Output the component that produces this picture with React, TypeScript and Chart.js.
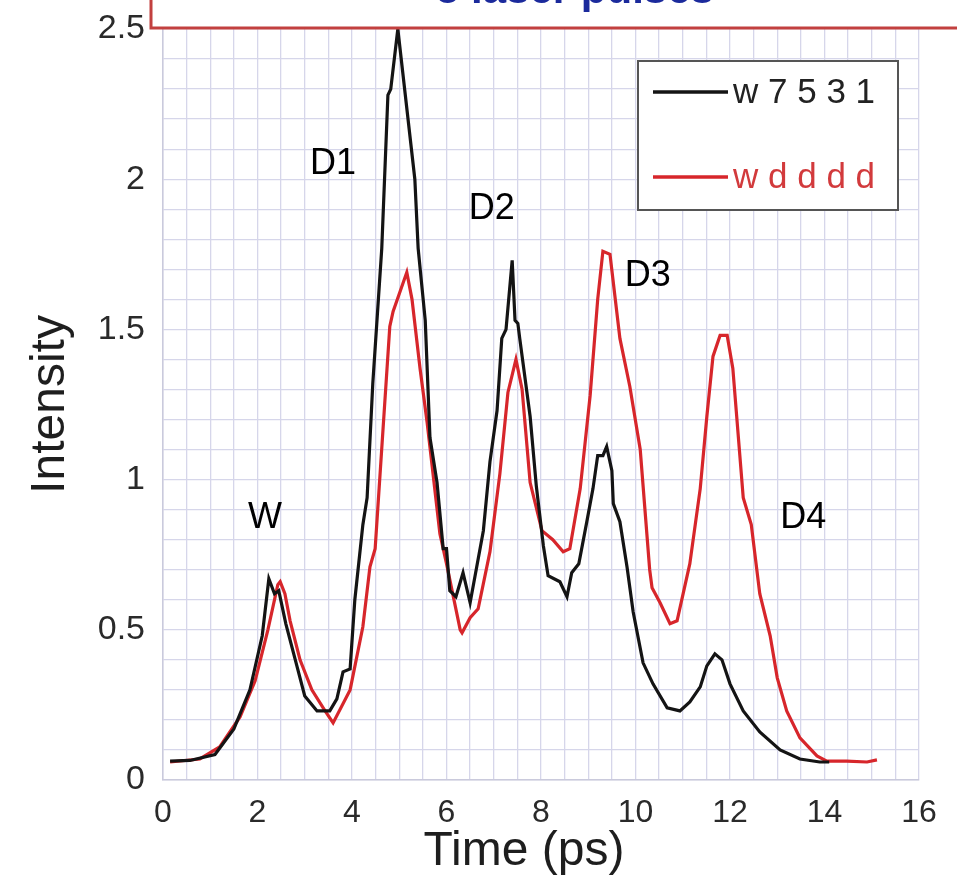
import React, { useEffect, useRef } from "react";
import { Chart, registerables } from "chart.js";

Chart.register(...registerables);

// ---- Data ----
const seriesNames = ["w 7 5 3 1", "w d d d d"];
const seriesColors = ["#141414", "#d7262b"];

const blackTimes = [
  0.15, 0.57, 1.1, 1.5, 1.84, 2.1, 2.24, 2.36, 2.45, 2.6, 2.8, 3.0, 3.26, 3.53, 3.68, 3.81, 3.96,
  4.06, 4.23, 4.32, 4.44, 4.63, 4.76, 4.82, 4.97, 5.33, 5.4, 5.55, 5.65, 5.8, 5.93, 6.0, 6.07,
  6.2, 6.35, 6.5, 6.64, 6.78, 6.92, 7.07, 7.17, 7.26, 7.39, 7.45, 7.51, 7.55, 7.77, 7.9, 8.05,
  8.15, 8.4, 8.55, 8.65, 8.8, 8.97, 9.1, 9.2, 9.31, 9.39, 9.5, 9.53, 9.67, 9.82, 9.95, 10.16,
  10.37, 10.67, 10.94, 11.15, 11.37, 11.51, 11.68, 11.83, 12.0, 12.28, 12.63, 13.06, 13.48,
  13.9, 14.1,
];
const blackIntensity = [
  0.063, 0.065, 0.085, 0.17, 0.3, 0.48, 0.67, 0.62, 0.63, 0.52, 0.4, 0.28, 0.23, 0.23, 0.27, 0.36,
  0.37, 0.6, 0.85, 0.94, 1.32, 1.77, 2.28, 2.3, 2.5, 2.0, 1.77, 1.53, 1.14, 0.99, 0.77, 0.77,
  0.63, 0.61, 0.69, 0.59, 0.71, 0.83, 1.06, 1.23, 1.47, 1.5, 1.73, 1.53, 1.52, 1.47, 1.21, 0.98,
  0.78, 0.68, 0.66, 0.61, 0.69, 0.72, 0.86, 0.97, 1.08, 1.08, 1.11, 1.03, 0.92, 0.86, 0.71,
  0.56, 0.39, 0.32, 0.24, 0.23, 0.26, 0.31, 0.38, 0.42, 0.4, 0.32, 0.23, 0.16, 0.1, 0.07, 0.06,
  0.06,
];

const redTimes = [
  0.15, 0.78, 1.2, 1.63, 1.95, 2.22, 2.43, 2.48, 2.58, 2.69, 2.9, 3.15, 3.43, 3.6, 3.96, 4.23,
  4.38, 4.49, 4.8, 4.87, 5.16, 5.27, 5.44, 5.59, 5.86, 6.0, 6.29, 6.33, 6.5, 6.67, 6.92, 7.13,
  7.3, 7.47, 7.6, 7.77, 8.02, 8.25, 8.47, 8.61, 8.83, 9.04, 9.2, 9.31, 9.46, 9.67, 9.88, 10.1,
  10.3, 10.35, 10.52, 10.73, 10.88, 11.15, 11.37, 11.51, 11.64, 11.79, 11.94, 12.06, 12.28,
  12.45, 12.63, 12.85, 13.0, 13.2, 13.48, 13.84, 14.05, 14.47, 14.9, 15.11,
];
const redIntensity = [
  0.06, 0.07, 0.11, 0.21, 0.33, 0.5, 0.65, 0.66, 0.62, 0.53, 0.4, 0.3, 0.23, 0.19, 0.3, 0.51,
  0.71, 0.77, 1.51, 1.56, 1.69, 1.6, 1.37, 1.19, 0.82, 0.72, 0.5, 0.49, 0.54, 0.57, 0.76, 1.02,
  1.29, 1.4, 1.3, 0.99, 0.83, 0.8, 0.76, 0.77, 0.97, 1.28, 1.6, 1.76, 1.75, 1.47, 1.31, 1.1,
  0.7, 0.64, 0.59, 0.52, 0.53, 0.72, 0.97, 1.21, 1.41, 1.48, 1.48, 1.37, 0.94, 0.85, 0.62,
  0.48, 0.34, 0.23, 0.14, 0.08, 0.063, 0.063, 0.06, 0.067,
];

const annotationLabels = ["W", "D1", "D2", "D3", "D4"];
const annotationX = [2.16, 3.6, 6.96, 10.26, 13.55];
const annotationY = [0.873, 2.05, 1.9, 1.677, 0.873];

const bannerText = "5 laser pulses";
const xTitle = "Time (ps)";
const yTitle = "Intensity";

const FONT = "'Liberation Sans', Arial, Helvetica, sans-serif";

function fmtTick(v: number): string {
  const r = Math.round(v * 10) / 10;
  return String(r);
}

const overlayPlugin = {
  id: "overlay",
  afterDraw(chart: any) {
    const ctx = chart.ctx as CanvasRenderingContext2D;
    const xs = chart.scales.x;
    const ys = chart.scales.y;
    ctx.save();
    // annotations
    ctx.fillStyle = "#000";
    ctx.font = `36px ${FONT}`;
    ctx.textAlign = "center";
    ctx.textBaseline = "middle";
    annotationLabels.forEach((t, i) => {
      ctx.fillText(t, xs.getPixelForValue(annotationX[i]), ys.getPixelForValue(annotationY[i]));
    });

    // x axis title
    ctx.fillStyle = "#1e1e1e";
    ctx.font = `48px ${FONT}`;
    ctx.textAlign = "center";
    ctx.textBaseline = "middle";
    ctx.fillText(xTitle, 524, 852);

    // legend box
    const lx = 638, ly = 61, lw = 260, lh = 149;
    ctx.fillStyle = "#fff";
    ctx.fillRect(lx, ly, lw, lh);
    ctx.strokeStyle = "#555";
    ctx.lineWidth = 2;
    ctx.strokeRect(lx, ly, lw, lh);
    const rows = [92, 177];
    seriesNames.forEach((name, i) => {
      ctx.strokeStyle = seriesColors[i];
      ctx.lineWidth = 3.5;
      ctx.beginPath();
      ctx.moveTo(653, rows[i]);
      ctx.lineTo(728, rows[i]);
      ctx.stroke();
      ctx.fillStyle = i === 0 ? "#222" : "#d23a3c";
      ctx.font = `35px ${FONT}`;
      ctx.textAlign = "left";
      ctx.textBaseline = "middle";
      ctx.fillText(name, 733, rows[i] + 1);
    });

    // top banner (cut off)
    ctx.fillStyle = "#fff";
    ctx.fillRect(151, -10, 820, 38);
    ctx.strokeStyle = "#c2403f";
    ctx.lineWidth = 3;
    ctx.beginPath();
    ctx.moveTo(151, -5);
    ctx.lineTo(151, 28);
    ctx.lineTo(965, 28);
    ctx.stroke();
    ctx.fillStyle = "#1b2a9c";
    ctx.font = `bold 42px ${FONT}`;
    ctx.textAlign = "center";
    ctx.textBaseline = "alphabetic";
    ctx.fillText(bannerText, 575, 3);
    ctx.restore();
  },
};

export default function App() {
  const ref = useRef<HTMLCanvasElement | null>(null);
  useEffect(() => {
    if (!ref.current) return;
    const chart = new Chart(ref.current, {
      type: "line",
      data: {
        datasets: [
          {
            label: seriesNames[0],
            data: blackTimes.map((t, i) => ({ x: t, y: blackIntensity[i] })),
            borderColor: seriesColors[0],
            borderWidth: 3.2,
            pointRadius: 0,
            tension: 0,
          },
          {
            label: seriesNames[1],
            data: redTimes.map((t, i) => ({ x: t, y: redIntensity[i] })),
            borderColor: seriesColors[1],
            borderWidth: 3.2,
            pointRadius: 0,
            tension: 0,
          },
        ],
      },
      options: {
        animation: false,
        responsive: false,
        devicePixelRatio: 1,
        layout: { padding: { left: 0, top: 29, right: 38, bottom: 0 } },
        plugins: { legend: { display: false }, tooltip: { enabled: false } },
        scales: {
          x: {
            type: "linear",
            min: 0,
            max: 16,
            afterFit: (s: any) => {
              s.height = 101;
              s.paddingLeft = 0;
              s.paddingRight = 0;
            },
            ticks: {
              stepSize: 0.5,
              autoSkip: false,
              maxRotation: 0,
              padding: 14,
              color: "#2a2a2a",
              font: { family: FONT, size: 32 },
              callback: (v: any) => {
                const n = Number(v);
                return Math.abs(n / 2 - Math.round(n / 2)) < 1e-6 ? fmtTick(n) : "";
              },
            },
            grid: { color: "#d6d6ea", lineWidth: 1.3, drawTicks: false },
            border: { color: "#cacadc", width: 1.5 },
            title: { display: false },
          },
          y: {
            min: 0,
            max: 2.5,
            afterFit: (s: any) => {
              s.width = 163;
              s.paddingTop = 0;
              s.paddingBottom = 0;
            },
            ticks: {
              stepSize: 0.1,
              autoSkip: false,
              padding: 18,
              color: "#2a2a2a",
              font: { family: FONT, size: 34 },
              callback: (v: any) => {
                const n = Number(v);
                return Math.abs(n * 2 - Math.round(n * 2)) < 1e-6 ? fmtTick(n) : "";
              },
            },
            grid: { color: "#d6d6ea", lineWidth: 1.3, drawTicks: false },
            border: { color: "#cacadc", width: 1.5 },
            title: {
              display: true,
              text: yTitle,
              color: "#1e1e1e",
              font: { family: FONT, size: 48 },
              padding: { top: 22, bottom: 0 },
            },
          },
        },
      },
      plugins: [overlayPlugin],
    });
    return () => chart.destroy();
  }, []);
  return (
    <div style={{ position: "absolute", left: 0, top: 0, width: 957, height: 881, background: "#fff" }}>
      <canvas ref={ref} width={957} height={881} style={{ display: "block" }} />
    </div>
  );
}
